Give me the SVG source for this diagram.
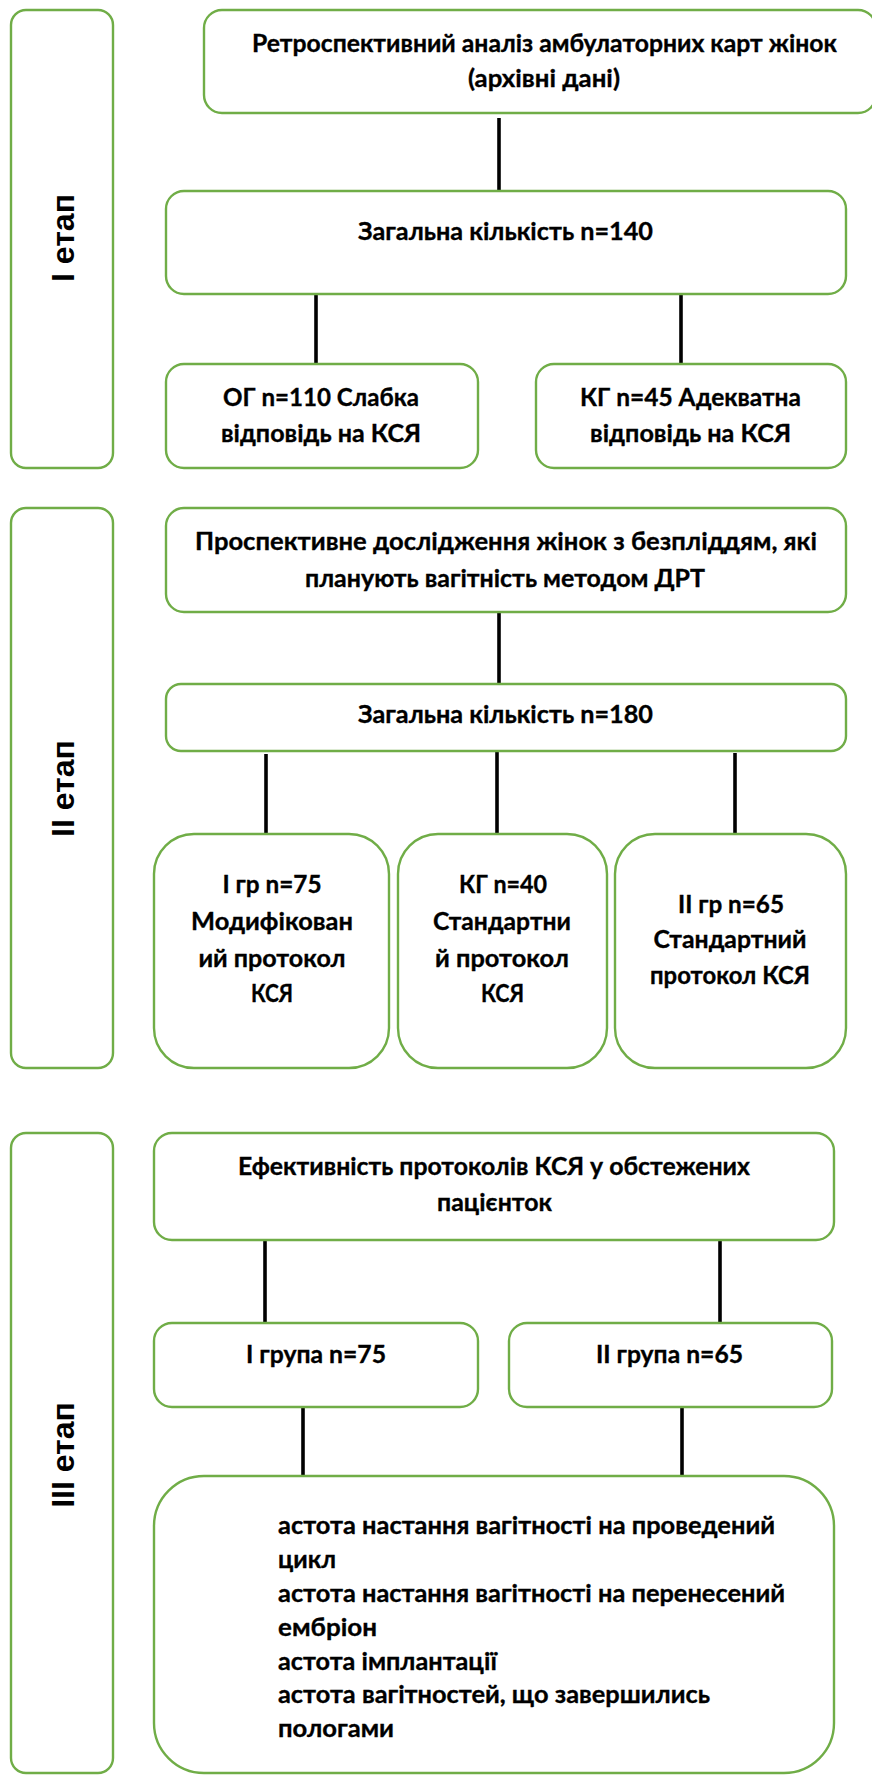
<svg xmlns="http://www.w3.org/2000/svg" width="872" height="1775" viewBox="0 0 872 1775">
<style>
.box{fill:#fff;stroke:#70AD47;stroke-width:2.4}
.t{font-family:Lato,"Open Sans","Liberation Sans",sans-serif;font-weight:bold;font-size:25.5px;fill:#000;stroke:#000;stroke-width:0.35;text-anchor:middle}
.l{font-family:Lato,"Open Sans","Liberation Sans",sans-serif;font-weight:bold;font-size:25.5px;fill:#000;stroke:#000;stroke-width:0.35}
.st{font-family:"Liberation Sans",Arial,sans-serif;font-weight:bold;font-size:32px;fill:#000;text-anchor:middle}
.c{stroke:#000;stroke-width:3.6;fill:none}
</style>
<rect width="872" height="1775" fill="#fff"/>

<g id="connectors">
<line class="c" x1="499" y1="118" x2="499" y2="191"/>
<line class="c" x1="316" y1="294" x2="316" y2="364"/>
<line class="c" x1="681" y1="294" x2="681" y2="364"/>
<line class="c" x1="499" y1="612" x2="499" y2="684"/>
<line class="c" x1="266" y1="754" x2="266" y2="834"/>
<line class="c" x1="497" y1="751" x2="497" y2="834"/>
<line class="c" x1="735" y1="753" x2="735" y2="834"/>
<line class="c" x1="265" y1="1240" x2="265" y2="1323"/>
<line class="c" x1="720" y1="1240" x2="720" y2="1323"/>
<line class="c" x1="303" y1="1407" x2="303" y2="1476"/>
<line class="c" x1="682" y1="1407" x2="682" y2="1476"/>
</g>

<g id="stage1">
<rect class="box" x="11" y="10" width="102" height="458" rx="15"/>
<text class="st" transform="translate(73.5,238) rotate(-90)" x="0" y="0">I етап</text>
</g>
<g id="retro">
<rect class="box" x="204" y="10" width="672" height="103" rx="18"/>
<text class="t" x="544.5" y="52" textLength="585" lengthAdjust="spacingAndGlyphs">Ретроспективний аналіз амбулаторних карт жінок</text>
<text class="t" x="544" y="87" textLength="152" lengthAdjust="spacingAndGlyphs">(архівні дані)</text>
</g>
<g id="total140">
<rect class="box" x="166" y="191" width="680" height="103" rx="18"/>
<text class="t" x="505.5" y="240" textLength="295" lengthAdjust="spacingAndGlyphs">Загальна кількість n=140</text>
</g>
<g id="og110">
<rect class="box" x="166" y="364" width="312" height="104" rx="18"/>
<text class="t" x="321" y="406" textLength="196" lengthAdjust="spacingAndGlyphs">ОГ n=110 Слабка</text>
<text class="t" x="321" y="442" textLength="200" lengthAdjust="spacingAndGlyphs">відповідь на КСЯ</text>
</g>
<g id="kg45">
<rect class="box" x="536" y="364" width="310" height="104" rx="18"/>
<text class="t" x="690.5" y="406" textLength="221" lengthAdjust="spacingAndGlyphs">КГ n=45 Адекватна</text>
<text class="t" x="690.5" y="442" textLength="201" lengthAdjust="spacingAndGlyphs">відповідь на КСЯ</text>
</g>

<g id="stage2">
<rect class="box" x="11" y="508" width="102" height="560" rx="15"/>
<text class="st" transform="translate(74,788.5) rotate(-90)" x="0" y="0">II етап</text>
</g>
<g id="prosp">
<rect class="box" x="166" y="508" width="680" height="104" rx="18"/>
<text class="t" x="506" y="550" textLength="622" lengthAdjust="spacingAndGlyphs">Проспективне дослідження жінок з безпліддям, які</text>
<text class="t" x="505" y="587" textLength="400" lengthAdjust="spacingAndGlyphs">планують вагітність методом ДРТ</text>
</g>
<g id="total180">
<rect class="box" x="166" y="684" width="680" height="67" rx="15"/>
<text class="t" x="505.5" y="723" textLength="295" lengthAdjust="spacingAndGlyphs">Загальна кількість n=180</text>
</g>
<g id="gr1">
<rect class="box" x="154" y="834" width="235" height="234" rx="40"/>
<text class="t" x="272" y="893" textLength="99" lengthAdjust="spacingAndGlyphs">I гр n=75</text>
<text class="t" x="272" y="930" textLength="162" lengthAdjust="spacingAndGlyphs">Модифікован</text>
<text class="t" x="272" y="967" textLength="147" lengthAdjust="spacingAndGlyphs">ий протокол</text>
<text class="t" x="272" y="1002" textLength="42" lengthAdjust="spacingAndGlyphs">КСЯ</text>
</g>
<g id="kg40">
<rect class="box" x="398" y="834" width="209" height="234" rx="40"/>
<text class="t" x="503" y="893" textLength="88" lengthAdjust="spacingAndGlyphs">КГ n=40</text>
<text class="t" x="502" y="930" textLength="138" lengthAdjust="spacingAndGlyphs">Стандартни</text>
<text class="t" x="502" y="967" textLength="134" lengthAdjust="spacingAndGlyphs">й протокол</text>
<text class="t" x="502.5" y="1002" textLength="43" lengthAdjust="spacingAndGlyphs">КСЯ</text>
</g>
<g id="gr2">
<rect class="box" x="615" y="834" width="231" height="234" rx="40"/>
<text class="t" x="731" y="913" textLength="106" lengthAdjust="spacingAndGlyphs">II гр n=65</text>
<text class="t" x="730" y="948" textLength="153" lengthAdjust="spacingAndGlyphs">Стандартний</text>
<text class="t" x="730" y="984" textLength="160" lengthAdjust="spacingAndGlyphs">протокол КСЯ</text>
</g>

<g id="stage3">
<rect class="box" x="11" y="1133" width="102" height="640" rx="15"/>
<text class="st" transform="translate(74,1455) rotate(-90)" x="0" y="0">III етап</text>
</g>
<g id="effect">
<rect class="box" x="154" y="1133" width="680" height="107" rx="18"/>
<text class="t" x="494" y="1175" textLength="512" lengthAdjust="spacingAndGlyphs">Ефективність протоколів КСЯ у обстежених</text>
<text class="t" x="494.5" y="1211" textLength="115" lengthAdjust="spacingAndGlyphs">пацієнток</text>
</g>
<g id="grupa1">
<rect class="box" x="154" y="1323" width="324" height="84" rx="18"/>
<text class="t" x="316" y="1363" textLength="140" lengthAdjust="spacingAndGlyphs">I група n=75</text>
</g>
<g id="grupa2">
<rect class="box" x="509" y="1323" width="323" height="84" rx="18"/>
<text class="t" x="669.5" y="1363" textLength="147" lengthAdjust="spacingAndGlyphs">II група n=65</text>
</g>
<g id="results">
<rect class="box" x="154" y="1476" width="680" height="297" rx="50"/>
<text class="l" x="278" y="1534" textLength="497" lengthAdjust="spacingAndGlyphs">астота настання вагітності на проведений</text>
<text class="l" x="278" y="1568" textLength="58" lengthAdjust="spacingAndGlyphs">цикл</text>
<text class="l" x="278" y="1602" textLength="507" lengthAdjust="spacingAndGlyphs">астота настання вагітності на перенесений</text>
<text class="l" x="278" y="1636" textLength="99" lengthAdjust="spacingAndGlyphs">ембріон</text>
<text class="l" x="278" y="1670" textLength="219" lengthAdjust="spacingAndGlyphs">астота імплантації</text>
<text class="l" x="278" y="1703" textLength="432" lengthAdjust="spacingAndGlyphs">астота вагітностей, що завершились</text>
<text class="l" x="278" y="1737" textLength="116" lengthAdjust="spacingAndGlyphs">пологами</text>
</g>
</svg>
